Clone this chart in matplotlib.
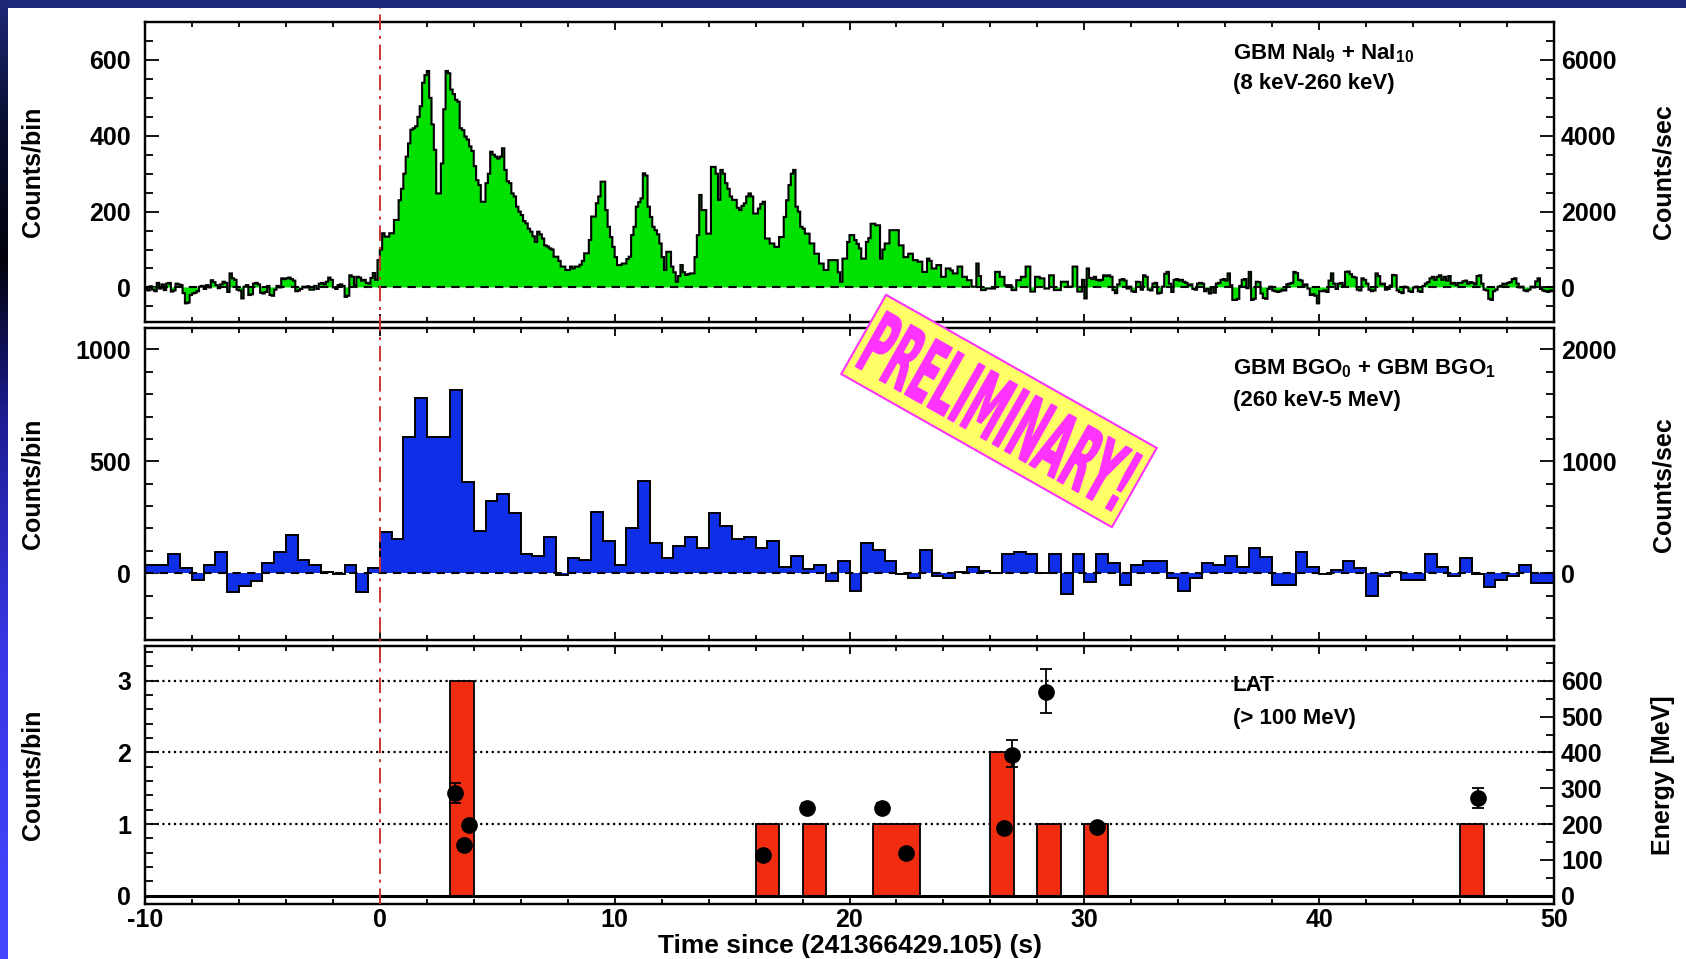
import numpy as np
import matplotlib
matplotlib.use('Agg')
import matplotlib.pyplot as plt
from matplotlib.ticker import MultipleLocator
from matplotlib.patches import Rectangle, PathPatch, Polygon
from matplotlib.textpath import TextPath
from matplotlib.font_manager import FontProperties
from matplotlib.lines import Line2D
from matplotlib import transforms

plt.rcParams['font.family'] = ['Liberation Sans', 'DejaVu Sans']
plt.rcParams['font.weight'] = 'bold'
plt.rcParams['axes.unicode_minus'] = False
plt.rcParams['mathtext.fontset'] = 'custom'
plt.rcParams['mathtext.rm'] = 'Liberation Sans:bold'
plt.rcParams['mathtext.bf'] = 'Liberation Sans:bold'
plt.rcParams['mathtext.it'] = 'Liberation Sans:bold'

# ---- data ----
t_min, t_max = -10, 50

# GBM NaI, 0.1 s bins, counts/bin
nai_pre = [
    -4, -8, 3, -6, -10, 12, -3, 8, -7, 10,
    12, -11, -8, 10, 8, 6, -15, -42, -40, -20,
    -16, -14, -10, 2, 4, -4, 6, 0, 19, 14,
    6, -2, 8, 15, 12, -12, 37, 24, 20, -6,
    -8, -29, 2, 6, -20, -18, 10, 12, 8, -14,
    -16, -12, 4, -20, -22, -6, 4, 0, 24, 22,
    24, 26, 22, 18, -10, -8, -4, 2, 0, 3,
    -6, -6, 4, -4, 10, 12, 8, 15, 26, 20,
    0, -4, 6, 8, 4, -25, -22, 32, 28, 6,
    28, 26, 18, 20, 12, 10, 25, 38, 20, 72,
]
nai_burst = [
    100, 143, 134, 134, 143, 143, 178, 178, 230, 260,
    300, 345, 380, 416, 420, 425, 450, 478, 540, 560,
    571, 500, 430, 363, 248, 248, 327, 470, 571, 565,
    522, 510, 495, 490, 420, 415, 398, 390, 372, 360,
    320, 283, 270, 226, 226, 275, 300, 358, 350, 345,
    340, 345, 367, 310, 280, 275, 248, 240, 213, 200,
    191, 175, 169, 155, 147, 135, 120, 147, 140, 129,
    111, 108, 103, 100, 81, 81, 70, 55, 55, 46,
    46, 55, 50, 55, 55, 60, 70, 90, 90, 125,
    187, 187, 222, 240, 279, 279, 204, 160, 133, 107,
    80, 59, 59, 63, 63, 75, 81, 138, 160, 213,
    225, 235, 301, 295, 213, 186, 160, 151, 140, 116,
    80, 46, 94, 94, 55, 40, 15, 30, 59, 40,
    33, 35, 37, 37, 80, 138, 244, 204, 204, 142,
    142, 318, 318, 300, 231, 310, 300, 275, 260, 240,
    231, 231, 210, 204, 215, 222, 240, 248, 240, 195,
    195, 208, 220, 226, 129, 129, 116, 116, 107, 107,
    133, 133, 186, 230, 270, 300, 310, 213, 200, 160,
    155, 142, 142, 116, 116, 89, 89, 63, 63, 46,
    46, 72, 72, 72, 72, 40, 15, 76, 76, 120,
    138, 138, 125, 115, 103, 76, 76, 120, 130, 168,
    168, 164, 164, 76, 100, 116, 116, 151, 151, 151,
    151, 111, 111, 80, 80, 89, 89, 72, 72, 68,
    68, 41, 41, 76, 70, 50, 50, 59, 59, 28,
    28, 50, 50, 45, 37, 37, 55, 55, 28, 28,
    19, 19, 2, 2, 63, 30, -7, -7, -3, -3,
    -3, -3, 41, 41, 28, 28, 6, 6, 6, -7,
    -7, 19, 19, 28, 28, 55, 55, -11, -11, 28,
    28, 24, 24, -3, -3, 32, 32, -7, -7, -7,
    15, 15, 15, 2, 2, 55, 55, -11, -11, 20,
]
nai_post = [
    -29, 50, 25, 22, 28, 20, 18, 20, 32, 30,
    32, 28, -7, -15, 8, 20, 22, 18, -3, 2,
    -10, -12, 15, 14, -6, 32, 28, -6, -8, 10,
    12, -16, -14, 2, 36, 41, 10, -12, 20, 22,
    18, 20, 15, 12, 6, 8, -4, -6, 10, 12,
    10, -10, -4, -16, 0, -14, 10, 12, 20, 22,
    18, 37, 6, -33, -33, -30, 4, 20, 22, -2,
    41, -33, -30, 15, 14, -16, -28, -30, -4, 2,
    -8, -10, -12, -10, -6, -8, 8, 10, 12, 41,
    38, 20, 18, 6, 8, -3, -20, -18, -22, -42,
    -10, -10, -8, -12, 18, 37, 10, -4, 10, 12,
    4, 41, 42, 35, 28, 26, -6, -8, 24, 20,
    10, -6, -10, -8, 37, 30, 8, 10, -6, -4,
    5, 33, 32, -8, -12, -15, 2, 0, -10, -12,
    0, 2, -10, -12, 4, 10, 14, 24, 28, 20,
    28, 32, 20, 28, 18, 30, 10, 12, 6, 12,
    12, 16, 18, 10, 14, 12, 8, 30, 32, 10,
    -6, -8, -30, -33, -10, -6, 2, 4, 10, 8,
    12, 14, 22, 24, 10, 0, 2, -8, -10, -6,
    2, 0, 16, 24, -4, -8, -10, -12, -8, -10,
]
nai_counts = nai_pre + nai_burst + nai_post

# GBM BGO, 0.5 s bins, counts/bin
bgo_counts = [
    37, 37, 85, 22, -30, 37, 94, -82, -55, -34,
    48, 94, 171, 60, 37, 4, -3, 37, -82, 22,
    183, 153, 607, 781, 610, 610, 818, 409, 190, 324,
    353, 268, 86, 79, 164, -7, 67, 60, 275, 144,
    37, 201, 410, 134, 67, 124, 164, 115, 268, 211,
    153, 164, 115, 144, 30, 77, 19, 39, -33, 55,
    -77, 134, 104, 55, -2, -22, 104, -12, -22, 7,
    30, 10, 0, 85, 94, 85, 0, 85, -92, 85,
    -40, 85, 48, -52, 37, 57, 57, -22, -77, -22,
    48, 37, 77, 30, 112, 74, -52, -52, 94, 30,
    -3, 15, 57, 22, -101, -12, 7, -30, -30, 86,
    30, -12, 67, -3, -60, -30, -12, 37, -42, -42,
]

# LAT, 1 s bins: start of the non-empty bins and their counts
lat_bin_start = [3, 16, 18, 21, 22, 26, 28, 30, 46]
lat_bin_count = [3, 1, 1, 1, 1, 2, 1, 1, 1]

# LAT photons: time (s), energy (MeV), error down / up
lat_t = [3.2, 3.6, 3.8, 16.3, 18.2, 21.4, 22.4, 26.6, 26.9, 28.35, 30.55, 46.75]
lat_e = [286, 141, 197, 113, 244, 244, 118, 188, 393, 569, 193, 272]
lat_err_lo = [28, 8, 8, 8, 14, 14, 8, 8, 35, 58, 8, 28]
lat_err_hi = [28, 8, 8, 8, 14, 14, 8, 8, 43, 63, 8, 30]

# ---- figure ----
W, H = 1686, 959
fig = plt.figure(figsize=(W / 100, H / 100), dpi=100)
fig.patch.set_facecolor('white')

left, width = 145 / W, (1554 - 145) / W
def panel(top_px, bot_px):
    return fig.add_axes([left, 1 - bot_px / H, width, (bot_px - top_px) / H])

ax1 = panel(21.7, 322.3)
ax2 = panel(328.3, 640.0)
ax3 = panel(645.7, 904.0)

green = '#00e100'
blue = '#0f2ee8'
red = '#f02d10'
tick_fs = 18
lab_fs = 18
txt_fs = 16

# NaI
edges_nai = np.linspace(t_min, t_max, len(nai_counts) + 1)
ax1.stairs(nai_counts, edges_nai, fill=True, color=green, baseline=0, zorder=2)
ax1.stairs(nai_counts, edges_nai, baseline=None, color='black', lw=1.5, zorder=3)
ax1.axhline(0, color='black', ls=(0, (4, 3)), lw=1.5, zorder=4)
ax1.set_ylim(-92, 701)

# BGO
edges_bgo = np.linspace(t_min, t_max, len(bgo_counts) + 1)
ax2.stairs(bgo_counts, edges_bgo, fill=True, color=blue, baseline=0, zorder=2)
ax2.stairs(bgo_counts, edges_bgo, baseline=None, color='black', lw=1.4, zorder=3)
ax2.axhline(0, color='black', ls=(0, (4, 3)), lw=1.5, zorder=4)
ax2.set_ylim(-298, 1094)

# LAT
edges_lat = np.arange(t_min, t_max + 1)
lat_hist = np.zeros(len(edges_lat) - 1)
for s, c in zip(lat_bin_start, lat_bin_count):
    lat_hist[s - t_min] = c
for y in (1, 2, 3):
    ax3.axhline(y, color='black', ls=(0, (1, 1.6)), lw=1.6, zorder=1)
ax3.stairs(lat_hist, edges_lat, fill=True, color=red, baseline=0, zorder=2)
ax3.stairs(lat_hist, edges_lat, baseline=0, color='black', lw=1.3, zorder=3)
ax3.axhline(0, color='black', lw=2.2, zorder=4)
ax3.set_ylim(-0.116, 3.49)

rights = []
for ax, scale, ymaj, ymin, rmaj, rmin in (
        (ax1, 10, 200, 50, 2000, 500),
        (ax2, 2, 500, 100, 1000, 200),
        (ax3, 200, 1, 0.2, 100, 50)):
    ax.set_xlim(t_min, t_max)
    ax.xaxis.set_major_locator(MultipleLocator(10))
    ax.xaxis.set_minor_locator(MultipleLocator(2))
    ax.yaxis.set_major_locator(MultipleLocator(ymaj))
    ax.yaxis.set_minor_locator(MultipleLocator(ymin))
    ax.tick_params(axis='x', which='both', direction='in', top=True, bottom=True,
                   width=1.3, labelsize=tick_fs, pad=3)
    ax.tick_params(axis='x', which='major', length=6)
    ax.tick_params(axis='x', which='minor', length=3.8)
    ax.tick_params(axis='y', which='both', direction='in', left=True, right=False,
                   width=1.3, labelsize=tick_fs, pad=10)
    ax.tick_params(axis='y', which='major', length=10)
    ax.tick_params(axis='y', which='minor', length=5.5)
    for sp in ax.spines.values():
        sp.set_linewidth(1.6)
    ax.set_ylabel('Counts/bin', fontsize=lab_fs, fontweight='bold')
    ax.yaxis.set_label_coords(-0.071, 0.5)

    tw = ax.twinx()
    lo, hi = ax.get_ylim()
    tw.set_ylim(lo * scale, hi * scale)
    tw.yaxis.set_major_locator(MultipleLocator(rmaj))
    tw.yaxis.set_minor_locator(MultipleLocator(rmin))
    tw.tick_params(axis='y', which='both', direction='in', right=True, left=False,
                   width=1.3, labelsize=tick_fs, pad=5)
    tw.tick_params(axis='y', which='major', length=10)
    tw.tick_params(axis='y', which='minor', length=5.5)
    for sp in tw.spines.values():
        sp.set_linewidth(1.6)
    rights.append(tw)

ax1.tick_params(axis='x', labelbottom=False)
ax2.tick_params(axis='x', labelbottom=False)

rights[0].set_ylabel('Counts/sec', fontsize=lab_fs, fontweight='bold')
rights[1].set_ylabel('Counts/sec', fontsize=lab_fs, fontweight='bold')
rights[2].set_ylabel('Energy [MeV]', fontsize=lab_fs, fontweight='bold')
for tw in rights:
    tw.yaxis.set_label_coords(1.069, 0.5)

rights[2].errorbar(lat_t, lat_e, yerr=[lat_err_lo, lat_err_hi], fmt='o',
                   color='black', ms=11, capsize=4, elinewidth=1.3,
                   capthick=1.3, zorder=5)

ax3.set_xlabel('Time since (241366429.105) (s)', fontsize=19, fontweight='bold')
ax3.xaxis.set_label_coords(0.5, -0.118)

# panel captions
ax1.text(0.772, 0.8925, r'GBM NaI$_{9}$ + NaI$_{10}$', transform=ax1.transAxes,
         fontsize=txt_fs, fontweight='bold', va='center', ha='left')
ax1.text(0.772, 0.796, '(8 keV-260 keV)', transform=ax1.transAxes,
         fontsize=txt_fs, fontweight='bold', va='center', ha='left')
ax2.text(0.772, 0.869, r'GBM BGO$_{0}$ + GBM BGO$_{1}$', transform=ax2.transAxes,
         fontsize=txt_fs, fontweight='bold', va='center', ha='left')
ax2.text(0.772, 0.767, '(260 keV-5 MeV)', transform=ax2.transAxes,
         fontsize=txt_fs, fontweight='bold', va='center', ha='left')
ax3.text(0.772, 0.844, 'LAT', transform=ax3.transAxes,
         fontsize=txt_fs, fontweight='bold', va='center', ha='left')
ax3.text(0.772, 0.72, '(> 100 MeV)', transform=ax3.transAxes,
         fontsize=txt_fs, fontweight='bold', va='center', ha='left')

# trigger time line through all panels
trig = transforms.blended_transform_factory(ax3.transData, fig.transFigure)
fig.add_artist(Line2D([0, 0], [1 - 904 / H, 1 - 8 / H], transform=trig,
                      color='#cc3333', lw=1.4, ls=(0, (8, 3, 1.5, 3)), zorder=6))

# slide frame: navy strip on top, gradient strip on the left
fig.add_artist(Rectangle((0, 1 - 8 / H), 1, 8 / H, transform=fig.transFigure,
                         color='#1e2a7c', lw=0, zorder=20))
stops_y = [0, 120, 260, 420, 650, H]
stops_c = np.array([[30, 40, 120], [10, 15, 50], [2, 2, 12],
                    [30, 30, 150], [55, 55, 230], [70, 70, 255]]) / 255
yy = np.arange(H)
col = np.stack([np.interp(yy, stops_y, stops_c[:, k]) for k in range(3)], axis=1)
strip = np.repeat(col[:, None, :], 8, axis=1)
fig.figimage(strip, xo=0, yo=0, origin='upper', zorder=21)

# PRELIMINARY stamp
cx, cy = 999 / 100, (H - 411) / 100
ang = -29.5
box_w, box_h = 311 / 100, 91 / 100
rot = transforms.Affine2D().rotate_deg(ang).translate(cx, cy)
corners = np.array([[-box_w / 2, -box_h / 2], [box_w / 2, -box_h / 2],
                    [box_w / 2, box_h / 2], [-box_w / 2, box_h / 2]])
fig.add_artist(Polygon(rot.transform(corners), closed=True, facecolor='#ffff66',
                       edgecolor='#ff33ff', lw=1.5, transform=fig.dpi_scale_trans,
                       zorder=30))
fp = FontProperties(family='DejaVu Sans', weight='bold')
tp = TextPath((0, 0), 'PRELIMINARY!', size=100, prop=fp)
bb = tp.get_extents()
tt = (transforms.Affine2D()
      .translate(-(bb.x0 + bb.width / 2), -(bb.y0 + bb.height / 2))
      .scale(2.94 / bb.width, 0.64 / bb.height)
      .rotate_deg(ang).translate(cx, cy))
fig.add_artist(PathPatch(tt.transform_path(tp), facecolor='#ff33ff', edgecolor='#ff33ff',
                         lw=0.8, transform=fig.dpi_scale_trans, zorder=31))

fig.savefig('out.png', dpi=100)
